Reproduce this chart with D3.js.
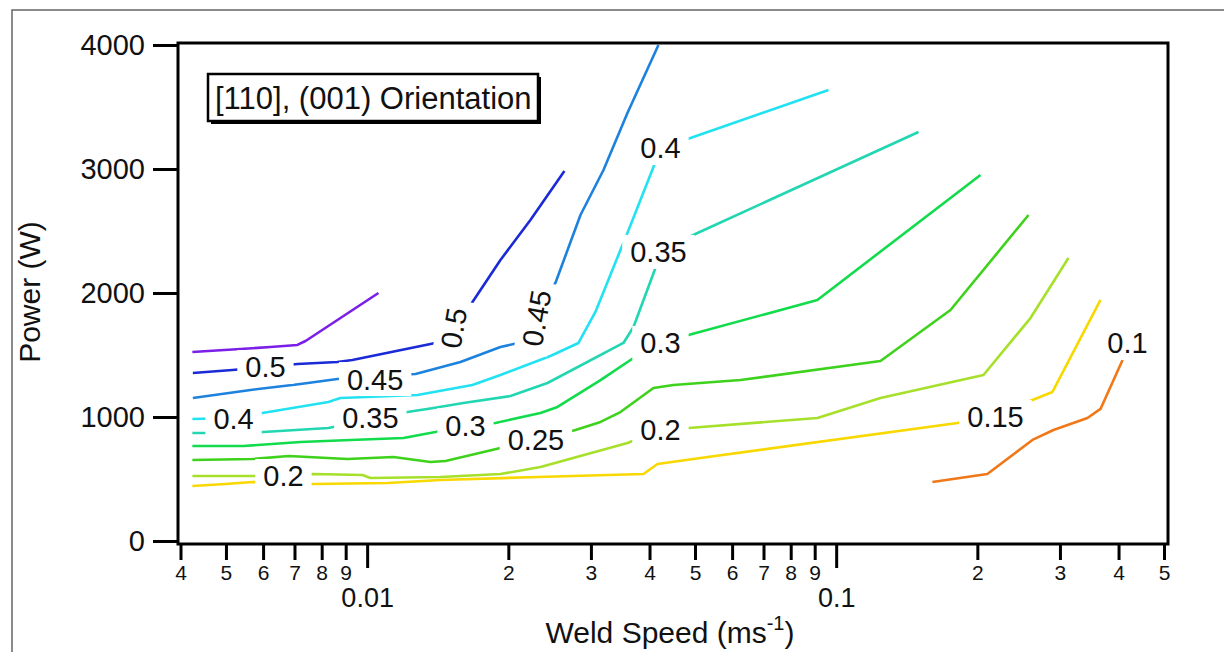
<!DOCTYPE html>
<html>
<head>
<meta charset="utf-8">
<script src="https://cdn.jsdelivr.net/npm/d3@7"></script>
<style>
  body { margin: 0; background: #fff; }
  svg { display: block; }
  text { font-family: "Liberation Sans", Arial, sans-serif; fill: #111; }
</style>
</head>
<body>
<svg id="chart" width="1224" height="652"></svg>
<script>
// contour levels and their colours
const levels = [0.55, 0.5, 0.45, 0.4, 0.35, 0.3, 0.25, 0.2, 0.15, 0.1];
const levelColors = ['#7a1ee8', '#1a2ad6', '#1c82de', '#22e2f2', '#22d6b2',
                     '#12dc4c', '#3ed21c', '#a6e02a', '#f8d800', '#f07818'];

// contour paths, [weld speed (m/s), power (W)]
const c055 = [[0.00424,1524],[0.00537,1548],[0.00622,1565],[0.00710,1581],[0.00739,1613],[0.01057,2000]];
const c050 = [[0.00425,1355],[0.00516,1379],[0.00607,1403],[0.00710,1427],[0.00864,1444],[0.00930,1460],
              [0.01398,1597],[0.01520,1718],[0.01661,1903],[0.01924,2266],[0.02229,2589],[0.02634,2984]];
const c045 = [[0.00425,1153],[0.00564,1218],[0.00721,1266],[0.00864,1306],[0.01042,1331],[0.01268,1347],
              [0.01581,1444],[0.01924,1565],[0.02102,1597],[0.02286,1798],[0.02520,2081],[0.02850,2629],
              [0.03191,2992],[0.03589,3452],[0.04179,4000]];
const c040 = [[0.00424,984],[0.00519,992],[0.00598,1032],[0.00827,1121],[0.00877,1153],[0.01280,1177],
              [0.01677,1258],[0.01924,1339],[0.02459,1492],[0.02822,1597],[0.03067,1847],[0.03468,2347],
              [0.03589,2484],[0.04078,3016],[0.04221,3169],[0.04891,3250],[0.0963,3637]];
const c035 = [[0.00424,871],[0.00537,871],[0.00601,879],[0.00827,911],[0.01000,976],[0.01219,1040],
              [0.01385,1073],[0.01604,1113],[0.02021,1169],[0.02424,1274],[0.03519,1597],[0.03697,1726],
              [0.04118,2202],[0.04179,2331],[0.05063,2484],[0.1498,3298]];
const c030 = [[0.00424,766],[0.00545,766],[0.00721,798],[0.00921,815],[0.01195,831],[0.01398,879],
              [0.01620,935],[0.01878,952],[0.02342,1032],[0.02546,1081],[0.03145,1298],[0.03697,1476],
              [0.04179,1597],[0.04844,1661],[0.0912,1944],[0.2031,2952]];
const c025 = [[0.00424,653],[0.00569,661],[0.00680,685],[0.00908,661],[0.01138,677],[0.01365,637],
              [0.01469,645],[0.01924,750],[0.02308,815],[0.02781,895],[0.03145,960],[0.03468,1040],
              [0.04078,1234],[0.04499,1258],[0.06252,1298],[0.1243,1452],[0.1753,1863],[0.2571,2629]];
const c020 = [[0.00424,524],[0.00569,524],[0.00663,524],[0.00768,540],[0.00977,532],[0.01016,508],
              [0.01433,516],[0.01924,540],[0.02342,597],[0.03589,790],[0.04221,895],[0.04844,911],
              [0.0912,992],[0.1243,1153],[0.2061,1339],[0.2596,1798],[0.3128,2282]];
const c015 = [[0.00424,444],[0.00499,460],[0.00569,476],[0.00663,468],[0.00768,460],[0.01105,468],
              [0.01433,492],[0.02308,516],[0.03882,540],[0.04159,621],[0.05137,669],[0.1814,952],
              [0.2186,1024],[0.2621,1137],[0.2892,1202],[0.3661,1944]];
const c010 = [[0.1604,476],[0.2101,540],[0.2621,815],[0.2906,895],[0.3434,992],[0.3661,1065],[0.4080,1460]];
const contours = [c055, c050, c045, c040, c035, c030, c025, c020, c015, c010];

// contour labels
const labelText  = ['0.5', '0.5', '0.45', '0.45', '0.4', '0.4', '0.35', '0.35', '0.3', '0.3',
                    '0.25', '0.2', '0.2', '0.15', '0.1'];
const labelSpeed = [0.00607, 0.01528, 0.0104, 0.02296, 0.00519, 0.04221, 0.01016, 0.04179, 0.0162, 0.0422,
                    0.0229, 0.00663, 0.04221, 0.2186, 0.418];
const labelPower = [1403, 1718, 1306, 1798, 984, 3169, 992, 2331, 935, 1597, 815, 524, 895, 1000, 1597];
const labelAngle = [0, -80, 0, -80, 0, 0, 0, 0, 0, 0, 0, 0, 0, 0, 0];

// axes
const yTicks = [0, 1000, 2000, 3000, 4000];
const xMajorTicks = [0.01, 0.1];
const xMinorTicks = [0.004, 0.005, 0.006, 0.007, 0.008, 0.009,
                     0.02, 0.03, 0.04, 0.05, 0.06, 0.07, 0.08, 0.09,
                     0.2, 0.3, 0.4, 0.5];
const legendText = '[110], (001) Orientation';

const svg = d3.select('#chart');

const x = d3.scaleLog().domain([0.004, 0.5]).range([180.5, 1164]);
const y = d3.scaleLinear().domain([0, 4000]).range([541, 45]);

// outer frame of the figure
svg.append('rect')
  .attr('x', 12).attr('y', 10)
  .attr('width', 1300).attr('height', 700)
  .attr('fill', 'none').attr('stroke', '#666').attr('stroke-width', 1.5);

// contour lines
const line = d3.line().x(d => x(d[0])).y(d => y(d[1]));

svg.append('g')
  .selectAll('path')
  .data(contours)
  .join('path')
  .attr('d', line)
  .attr('fill', 'none')
  .attr('stroke', (d, i) => levelColors[i])
  .attr('stroke-width', 2.6)
  .attr('stroke-linejoin', 'round');

// labels erase the lines under them
const labels = svg.append('g')
  .selectAll('g')
  .data(labelText.map((t, i) => ({ t, s: labelSpeed[i], p: labelPower[i], a: labelAngle[i] })))
  .join('g')
  .attr('transform', d => `translate(${x(d.s)},${y(d.p)}) rotate(${d.a})`);

labels.append('rect').attr('fill', '#fff');
labels.append('text')
  .attr('text-anchor', 'middle')
  .attr('dy', '0.36em')
  .style('font-size', '29px')
  .text(d => d.t);

labels.each(function () {
  const g = d3.select(this);
  const b = g.select('text').node().getBBox();
  g.select('rect')
    .attr('x', b.x - 8).attr('width', b.width + 16)
    .attr('y', -17).attr('height', 34);
});

// plot frame
svg.append('rect')
  .attr('x', 178).attr('y', 43)
  .attr('width', 990).attr('height', 501)
  .attr('fill', 'none').attr('stroke', '#000').attr('stroke-width', 3);

// y axis
const gy = svg.append('g')
  .attr('transform', 'translate(178,0)')
  .call(d3.axisLeft(y).tickValues(yTicks).tickSize(25).tickPadding(8).tickFormat(d3.format('d')));
gy.select('.domain').remove();
gy.selectAll('line').attr('stroke', '#000').attr('stroke-width', 3);
gy.selectAll('text').style('font-size', '29px').attr('fill', '#111');

// x axis, minor ticks labelled with their leading digit
const leadDigit = d => Math.round(d / Math.pow(10, Math.floor(Math.log10(d) + 1e-9)));

const gxMinor = svg.append('g')
  .attr('transform', 'translate(0,544)')
  .call(d3.axisBottom(x).tickValues(xMinorTicks).tickSize(16).tickPadding(5).tickFormat(leadDigit));
gxMinor.select('.domain').remove();
gxMinor.selectAll('line').attr('stroke', '#000').attr('stroke-width', 3);
gxMinor.selectAll('text').style('font-size', '21px').attr('fill', '#111');

const gxMajor = svg.append('g')
  .attr('transform', 'translate(0,544)')
  .call(d3.axisBottom(x).tickValues(xMajorTicks).tickSize(24).tickPadding(20).tickFormat(d => String(d)));
gxMajor.select('.domain').remove();
gxMajor.selectAll('line').attr('stroke', '#000').attr('stroke-width', 3);
gxMajor.selectAll('text').style('font-size', '27px').attr('fill', '#111');

// axis titles
svg.append('text')
  .attr('transform', 'translate(40,292) rotate(-90)')
  .attr('text-anchor', 'middle')
  .style('font-size', '30px')
  .text('Power (W)');

const xt = svg.append('text')
  .attr('x', 670).attr('y', 643)
  .attr('text-anchor', 'middle')
  .style('font-size', '30px');
xt.append('tspan').text('Weld Speed (ms');
xt.append('tspan').attr('dy', -13).style('font-size', '20px').text('-1');
xt.append('tspan').attr('dy', 13).text(')');

// legend box with shadow
svg.append('rect')
  .attr('x', 211).attr('y', 77).attr('width', 330).attr('height', 47)
  .attr('fill', '#000');
svg.append('rect')
  .attr('x', 208).attr('y', 74).attr('width', 330).attr('height', 47)
  .attr('fill', '#fff').attr('stroke', '#000').attr('stroke-width', 2.5);
svg.append('text')
  .attr('x', 215).attr('y', 109)
  .style('font-size', '31px')
  .text(legendText);
</script>
</body>
</html>
